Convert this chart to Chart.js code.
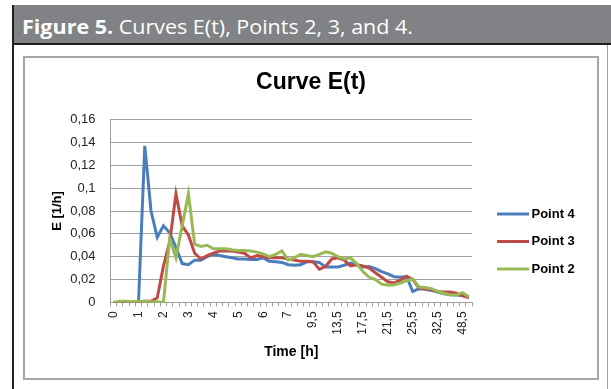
<html>
<head>
<script src="https://cdn.jsdelivr.net/npm/chart.js@4"></script>
<style>
  body { margin: 0; width: 611px; height: 389px; overflow: hidden; position: relative; background: #fff; }
  #banner { position: absolute; left: 12px; top: 5px; width: 599px; height: 38px; background: #808285; border-bottom: 2px solid #231f20; }
  #caption { position: absolute; left: 10px; top: 12px; color: #fff; font-family: "Open Sans"; font-size: 20px; line-height: 20px; white-space: nowrap; transform-origin: left center; transform: scaleX(1.075); }
  #frameL { position: absolute; left: 12px; top: 5px; width: 2px; height: 384px; background: #231f20; }
  #frameR { position: absolute; left: 607px; top: 45px; width: 1px; height: 344px; background: #a0a0a0; }
  #box { position: absolute; left: 23px; top: 56px; width: 572px; height: 320px; border: 2px solid #a6a6a6; }
</style>
</head>
<body>
<div id="banner"><div id="caption"><b>Figure 5.</b> Curves E(t), Points 2, 3, and 4.</div></div>
<div id="frameL"></div>
<div id="frameR"></div>
<div id="box"><canvas id="myChart"></canvas></div>
<script>
// time axis (h), one category per sample, every 4th one labelled
const timeLabels = ['0','0,25','0,5','0,75','1','1,25','1,5','1,75','2','2,25','2,5','2,75','3','3,25','3,5','3,75',
  '4','4,25','4,5','4,75','5','5,25','5,5','5,75','6','6,25','6,5','6,75','7','7,5','8,5','9','9,5',
  '10,5','11,5','12,5','13,5','14,5','15,5','16,5','17,5','18,5','19,5','20,5','21,5',
  '22,5','23,5','24,5','25,5','27','28,5','30,5','32,5','36,5','40,5','44,5','48,5','52,5'];

const yTickLabels = ['0','0,02','0,04','0,06','0,08','0,1','0,12','0,14','0,16'];

const point4 = [0,0,0,0,0.001,0.137,0.080,0.057,0.067,0.061,0.048,0.034,0.033,0.037,0.037,0.040,
  0.042,0.041,0.040,0.039,0.038,0.038,0.0375,0.0375,0.039,0.036,0.0355,0.035,0.033,0.0325,0.033,0.0355,0.0355,
  0.035,0.031,0.031,0.031,0.0325,0.0345,0.033,0.031,0.0315,0.0295,0.027,0.025,
  0.0225,0.022,0.0225,0.0095,0.012,0.0115,0.0105,0.009,0.0075,0.007,0.0065,0.0058,0.005];

const point3 = [0,0,0,0,0,0.001,0.001,0.004,0.032,0.053,0.095,0.067,0.059,0.043,0.038,0.041,
  0.043,0.045,0.045,0.045,0.044,0.043,0.039,0.041,0.040,0.039,0.039,0.039,0.038,0.037,0.036,0.036,0.0355,
  0.029,0.0315,0.038,0.039,0.037,0.032,0.033,0.032,0.030,0.026,0.022,0.018,
  0.017,0.0195,0.023,0.020,0.0125,0.012,0.011,0.0095,0.009,0.009,0.008,0.006,0.004];

const point2 = [0,0.001,0.001,0.0005,0.001,0.001,0.0005,0.0005,0,0.056,0.039,0.067,0.095,0.051,0.049,0.050,
  0.047,0.047,0.047,0.046,0.0455,0.0455,0.045,0.044,0.0425,0.040,0.042,0.045,0.037,0.039,0.042,0.041,0.040,
  0.042,0.0442,0.043,0.040,0.038,0.039,0.034,0.027,0.022,0.020,0.016,0.015,
  0.0155,0.017,0.019,0.0205,0.0135,0.013,0.012,0.0095,0.008,0.0065,0.0065,0.0085,0.005];

const gridGray = '#a0a0a0';

const sideLegend = {
  id: 'sideLegend',
  afterDraw(chart) {
    const ctx = chart.ctx;
    ctx.save();
    ctx.font = 'bold 13px "Liberation Sans"';
    ctx.textBaseline = 'middle';
    ctx.fillStyle = '#000';
    chart.data.datasets.forEach((ds, i) => {
      const y = 156 + i * 27.5;
      ctx.strokeStyle = ds.borderColor;
      ctx.lineWidth = 3;
      ctx.beginPath();
      ctx.moveTo(472, y);
      ctx.lineTo(504, y);
      ctx.stroke();
      ctx.fillText(ds.label, 506.5, y);
    });
    ctx.restore();
  }
};

const line = (label, data, color, order) => ({
  label: label, data: data, borderColor: color, backgroundColor: color,
  borderWidth: 3, pointRadius: 0, tension: 0, fill: false, order: order
});

new Chart(document.getElementById('myChart'), {
  type: 'line',
  data: {
    labels: timeLabels,
    datasets: [
      line('Point 4', point4, '#4a7ebb', 3),
      line('Point 3', point3, '#be4b48', 2),
      line('Point 2', point2, '#98b954', 1)
    ]
  },
  options: {
    responsive: true,
    maintainAspectRatio: false,
    animation: false,
    layout: { padding: { left: 0, right: 0, top: 0, bottom: 17 } },
    plugins: {
      legend: { display: false },
      tooltip: { enabled: false },
      title: {
        display: true, text: 'Curve E(t)', color: '#000',
        font: { family: 'Liberation Sans', size: 23, weight: 'bold' },
        padding: { top: 11.2, bottom: 22.8 }
      }
    },
    scales: {
      x: {
        offset: true,
        afterFit: s => { s.height = 58.6; },
        grid: { offset: true, drawOnChartArea: false, tickLength: 4, color: gridGray },
        border: { color: gridGray },
        ticks: {
          autoSkip: false, minRotation: 90, maxRotation: 90, padding: 5, color: '#222',
          font: { family: 'Liberation Sans', size: 12 },
          callback: (v, i) => i % 4 === 0 ? timeLabels[i] : ''
        },
        title: {
          display: true, text: 'Time [h]', color: '#000',
          font: { family: 'Liberation Sans', size: 14, weight: 'bold' },
          padding: { top: 0, bottom: 0 }
        }
      },
      y: {
        min: 0, max: 0.16,
        afterFit: s => { s.width = 85.5; },
        grid: { drawTicks: false, color: gridGray },
        border: { color: gridGray },
        ticks: {
          stepSize: 0.02, padding: 15, color: '#222',
          font: { family: 'Liberation Sans', size: 13 },
          callback: (v, i) => yTickLabels[i]
        },
        title: {
          display: true, text: 'E [1/h]', color: '#000',
          font: { family: 'Liberation Sans', size: 13, weight: 'bold' },
          padding: { top: 24.2, bottom: 0 }
        }
      },
      // empty right-hand scale that keeps room for the legend
      legendSpace: {
        type: 'linear', position: 'right',
        afterFit: s => { s.width = 125; },
        grid: { display: false },
        border: { display: false },
        ticks: { display: false }
      }
    }
  },
  plugins: [sideLegend]
});
</script>
</body>
</html>
